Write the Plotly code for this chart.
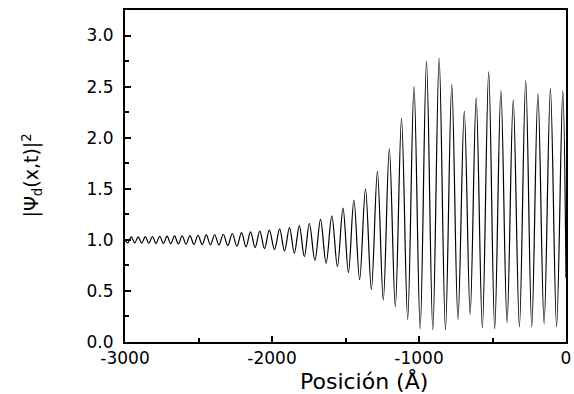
import plotly.graph_objects as go

# Extrema of |Psi_d(x,t)|^2 (x in Angstrom)
peak_x = [-2957, -2910, -2862, -2813, -2764, -2714, -2663, -2611, -2558, -2503,
          -2447, -2390, -2331, -2270, -2207, -2146, -2083, -2018, -1948, -1881,
          -1814, -1746, -1670, -1593, -1517, -1443, -1364, -1283, -1202, -1119,
          -1034, -949, -863, -777, -692, -611, -526, -443, -359, -274,
          -191, -106, -22]
peak_y = [1.030, 1.030, 1.032, 1.033, 1.035, 1.036, 1.038, 1.040, 1.042, 1.045,
          1.048, 1.050, 1.055, 1.062, 1.070, 1.078, 1.085, 1.095, 1.108, 1.120,
          1.140, 1.160, 1.200, 1.235, 1.310, 1.390, 1.500, 1.670, 1.890, 2.190,
          2.500, 2.750, 2.780, 2.520, 2.260, 2.390, 2.645, 2.460, 2.370, 2.560,
          2.430, 2.480, 2.460]

trough_x = [-2981, -2934, -2886, -2838, -2789, -2739, -2689, -2637, -2585, -2531,
            -2475, -2419, -2361, -2301, -2239, -2177, -2115, -2051, -1983, -1915,
            -1848, -1780, -1708, -1632, -1555, -1480, -1404, -1324, -1243, -1161,
            -1077, -992, -906, -820, -735, -652, -569, -485, -401, -317,
            -233, -149, -64]
trough_y = [0.970, 0.970, 0.968, 0.967, 0.965, 0.964, 0.962, 0.960, 0.958, 0.955,
            0.952, 0.950, 0.948, 0.944, 0.938, 0.932, 0.925, 0.915, 0.905, 0.890,
            0.870, 0.835, 0.800, 0.770, 0.737, 0.680, 0.610, 0.515, 0.410, 0.345,
            0.220, 0.130, 0.120, 0.120, 0.220, 0.270, 0.140, 0.130, 0.190, 0.150,
            0.150, 0.180, 0.150]

start_x, start_y = -3000, 1.0
end_x, end_y = 0, 0.63

x_ticks = [-3000, -2000, -1000, 0]
y_ticks = [0.0, 0.5, 1.0, 1.5, 2.0, 2.5, 3.0]

pts = [(start_x, start_y), (end_x, end_y)]
pts += list(zip(peak_x, peak_y)) + list(zip(trough_x, trough_y))
pts.sort(key=lambda p: p[0])
xs = [p[0] for p in pts]
ys = [p[1] for p in pts]

fig = go.Figure()
fig.add_trace(go.Scatter(x=xs, y=ys, mode="lines",
                         line=dict(color="black", width=1.2, shape="spline", smoothing=1.0),
                         showlegend=False, hoverinfo="skip"))

FONT = "DejaVu Sans"
fig.update_layout(
    width=574, height=394,
    margin=dict(l=125, r=3, t=10, b=52),
    paper_bgcolor="white", plot_bgcolor="white",
    font=dict(family=FONT, color="black"),
    xaxis=dict(range=[-3000, 0], tickvals=x_ticks, ticktext=[str(v) for v in x_ticks],
               ticks="inside", ticklen=6, tickwidth=1.5, tickcolor="black",
               showline=True, linewidth=2, linecolor="black", mirror=True,
               showgrid=False, zeroline=False, tickfont=dict(size=17, family=FONT),
               ticklabelstandoff=0, ticklabeloverflow="allow",
               minor=dict(dtick=500, tick0=-3000, ticks="inside", ticklen=4,
                          tickwidth=1.5, tickcolor="black", showgrid=False)),
    yaxis=dict(range=[0, 3.25], tickvals=y_ticks, ticktext=[f"{v:.1f}" for v in y_ticks],
               ticks="inside", ticklen=6, tickwidth=1.5, tickcolor="black",
               showline=True, linewidth=2, linecolor="black", mirror=True,
               showgrid=False, zeroline=False, tickfont=dict(size=17, family=FONT),
               ticklabelstandoff=6, ticklabeloverflow="allow",
               minor=dict(dtick=0.25, tick0=0, ticks="inside", ticklen=4,
                          tickwidth=1.5, tickcolor="black", showgrid=False)),
    annotations=[
        dict(text="Posición (Å)", xref="paper", yref="paper",
             x=0.543, y=-0.116, xanchor="center", yanchor="middle",
             showarrow=False, font=dict(size=22, family=FONT, color="black")),
        dict(text="|Ψ<sub>d</sub>(x,t)|<sup>2</sup>", xref="paper", yref="paper",
             x=-0.212, y=0.5, xanchor="center", yanchor="middle", textangle=-90,
             showarrow=False, font=dict(size=19, family=FONT, color="black")),
    ],
)

fig.write_html("out.html", config={"displayModeBar": False},
               post_script="document.body.style.margin='0';document.body.style.overflow='hidden';")
